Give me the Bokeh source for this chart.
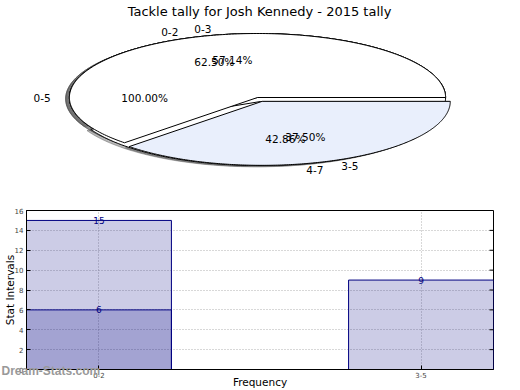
import numpy as np
from bokeh.plotting import figure
from bokeh.models import Label, Range1d, FixedTicker, Title
from bokeh.layouts import column
from bokeh.embed import file_html
from bokeh.resources import INLINE
from bokeh.core.properties import value

TITLE = "Tackle tally for Josh Kennedy - 2015 tally"

# three overlaid pies
pie_a_labels = ["0-5"]
pie_a_values = [6]
pie_b_labels = ["0-3", "4-7"]
pie_b_values = [4, 3]
pie_c_labels = ["0-2", "3-5"]
pie_c_values = [15, 9]

# bar chart
bar_categories = ["0-2", "3-5"]
bar_values = [15, 9]
bar2_categories = ["0-2"]
bar2_values = [6]
y_ticks = [0, 2, 4, 6, 8, 10, 12, 14, 16]

FONT = "DejaVu Sans"
W = 520
TOP_H = 195
BOT_H = 195
FL, FR = 25, 493          # frame left / right (page px), shared by both plots
BT, BB = 210, 369         # bar frame top / bottom (page px)

pies = [
    (pie_a_labels, pie_a_values, ["white"], [0.0]),
    (pie_b_labels, pie_b_values, ["white", "white"], [0.0, 0.065]),
    (pie_c_labels, pie_c_values, ["white", "#E9EFFC"], [0.0, 0.065]),
]

CX, CY = 256.5, 97.0   # pie centre (page px)
RX, RY = 188.5, 64.0   # pie radii (px)

p = figure(width=W, height=TOP_H,
           x_range=Range1d((FL - CX) / RX, (FR - CX) / RX),
           y_range=Range1d((CY - TOP_H) / RY, CY / RY),
           output_backend="svg", toolbar_location=None,
           x_axis_location=None, y_axis_location=None,
           min_border_left=FL, min_border_right=W - FR, min_border_top=0, min_border_bottom=0,
           title=None)
p.outline_line_color = None
p.grid.visible = False

wx, wy, wc = [], [], []
lab_l = dict(x=[], y=[], t=[])
lab_r = dict(x=[], y=[], t=[])
pct = dict(x=[], y=[], t=[])
for labels, values, colors, explode in pies:
    total = float(sum(values))
    t1 = 0.0
    for lab, v, col, ex in zip(labels, values, colors, explode):
        t2 = t1 + 360.0 * v / total
        mid = np.deg2rad((t1 + t2) / 2.0)
        ox, oy = ex * np.cos(mid), ex * np.sin(mid)
        th = np.deg2rad(np.linspace(t1, t2, 240))
        wx.append(np.concatenate([[ox], ox + np.cos(th), [ox]]))
        wy.append(np.concatenate([[oy], oy + np.sin(th), [oy]]))
        wc.append(col)
        lx, ly = ox + 1.1 * np.cos(mid), oy + 1.1 * np.sin(mid)
        d = lab_l if lx > 0 else lab_r
        d["x"].append(lx); d["y"].append(ly); d["t"].append(lab)
        pct["x"].append(ox + 0.6 * np.cos(mid))
        pct["y"].append(oy + 0.6 * np.sin(mid))
        pct["t"].append("%.2f%%" % (100.0 * v / total))
        t1 = t2

# shadows (below all wedges)
p.patches(xs=[x - 0.02 for x in wx], ys=[y - 0.02 for y in wy],
          fill_color="#4d4d4d", fill_alpha=0.4, line_color="#4d4d4d", line_alpha=0.4, line_width=1)
p.patches(xs=wx, ys=wy, fill_color=wc, line_color="black", line_width=1)

for d, al in ((lab_l, "left"), (lab_r, "right"), (pct, "center")):
    p.text(x=d["x"], y=d["y"], text=d["t"], text_align=al, text_baseline="middle",
           text_font=value(FONT), text_font_size="10.5px", text_color="black")

p.add_layout(Label(x=259, y=3, x_units="canvas", y_units="canvas", text=TITLE,
                   text_align="center", text_baseline="top", text_font=FONT,
                   text_font_size="13px", text_color="black"))

# ---- bar chart ----
BAR_W = 0.45
xi = list(range(len(bar_categories)))
x_lo, x_hi = -BAR_W / 2, len(bar_categories) - 1 + BAR_W / 2
b = figure(width=W, height=BOT_H,
           x_range=Range1d(x_lo, x_hi),
           y_range=Range1d(y_ticks[0], y_ticks[-1]),
           output_backend="svg", toolbar_location=None, title=None,
           min_border_left=FL, min_border_right=W - FR,
           min_border_top=BT - TOP_H, min_border_bottom=TOP_H + BOT_H - BB)
b.outline_line_color = "black"
b.background_fill_color = "white"

b.vbar(x=xi, top=bar_values, width=BAR_W, fill_color="navy", fill_alpha=0.2,
       line_color="navy", line_width=1)
x2 = [bar_categories.index(c) for c in bar2_categories]
b.vbar(x=x2, top=bar2_values, width=BAR_W, fill_color="navy", fill_alpha=0.2,
       line_color="navy", line_width=1)
b.text(x=xi, y=bar_values, text=[str(v) for v in bar_values], text_align="center",
       text_baseline="alphabetic", text_font=value(FONT), text_font_size="9px", text_color="navy")
b.text(x=x2, y=bar2_values, text=[str(v) for v in bar2_values], text_align="center",
       text_baseline="alphabetic", text_font=value(FONT), text_font_size="9px", text_color="navy")

# right-hand inward ticks at the y tick values
tick_len = (x_hi - x_lo) / (FR - FL) * 4
b.segment(x0=[x_hi] * len(y_ticks), y0=y_ticks, x1=[x_hi - tick_len] * len(y_ticks), y1=y_ticks,
          line_color="black", line_width=1)

b.xaxis.ticker = FixedTicker(ticks=xi)
b.xaxis.major_label_overrides = {i: c for i, c in zip(xi, bar_categories)}
b.yaxis.ticker = FixedTicker(ticks=y_ticks)
for ax in (b.xaxis[0], b.yaxis[0]):
    ax.major_tick_in = 4
    ax.major_tick_out = 0
    ax.minor_tick_line_color = None
    ax.axis_line_color = "black"
    ax.major_label_text_font = FONT
    ax.axis_label_text_font = FONT
    ax.axis_label_text_font_size = "10.5px"
    ax.axis_label_text_font_style = "normal"
    ax.axis_label_text_color = "black"
b.xaxis.axis_label = "Frequency"
b.yaxis.axis_label = "Stat Intervals"
b.xaxis.major_label_text_font_size = "7px"
b.xaxis.major_label_standoff = 2
b.yaxis.major_label_text_font_size = "7px"
b.yaxis.major_label_standoff = 3
try:
    b.xaxis[0].axis_label_standoff = -5
    b.yaxis[0].axis_label_standoff = -4
except Exception:
    b.xaxis[0].axis_label_standoff = 0
    b.yaxis[0].axis_label_standoff = 0

b.grid.grid_line_color = "#b0b0b0"
b.grid.grid_line_dash = "1 2"
b.grid.grid_line_width = 1

# watermark just under the frame, overlapping the axis area
wm_kw = dict(text="Dream-Stats.com", align="left", vertical_align="bottom", offset=-FL,
             text_font="Liberation Sans", text_font_size="12px", text_font_style="bold",
             text_color="#999999")
try:
    wm = Title(standoff=-16, **wm_kw)
except Exception:
    wm = Title(standoff=0, **wm_kw)
b.below = [wm] + list(b.below)

layout = column(p, b, spacing=0)
open("out.html", "w").write(file_html(layout, INLINE))
